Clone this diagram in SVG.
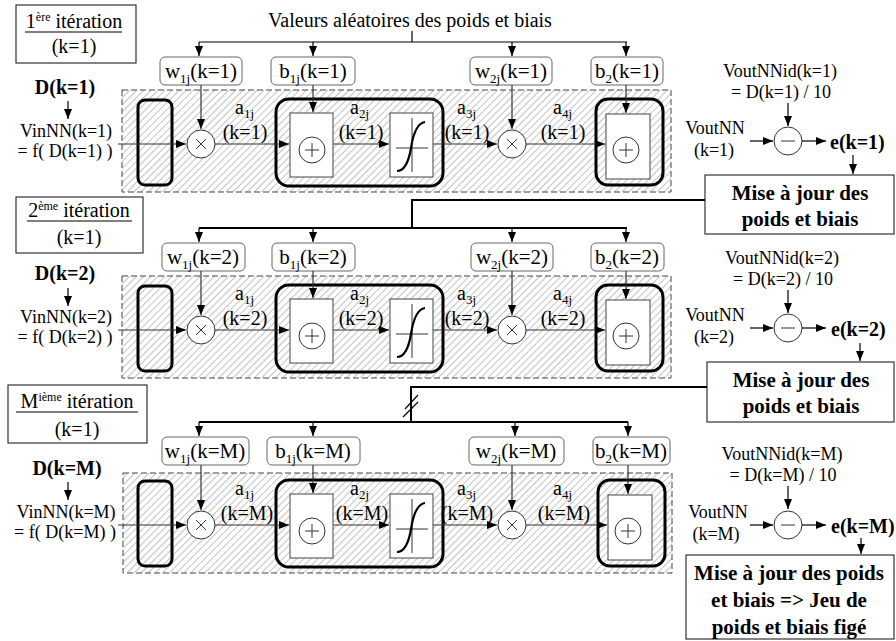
<svg xmlns="http://www.w3.org/2000/svg" width="896" height="641" viewBox="0 0 896 641">
<defs>
<pattern id="hatch" patternUnits="userSpaceOnUse" width="5" height="5" patternTransform="rotate(45)"><rect width="5" height="5" fill="#fff"/><line x1="0.5" y1="0" x2="0.5" y2="5" stroke="#c2c2c2" stroke-width="1"/></pattern>
<marker id="ah" markerUnits="userSpaceOnUse" markerWidth="10" markerHeight="8" refX="10" refY="4" orient="auto"><path d="M0,0 L10,4 L0,8 z" fill="#000"/></marker>
</defs>
<style>
.t{font-family:"Liberation Serif","Times New Roman",serif;font-size:20px;fill:#000}
.m{text-anchor:middle}
.b{font-weight:bold}
.s17{font-size:18px}
.s21{font-size:21px}
.sub{font-size:13px}
.dash{fill:url(#hatch);stroke:#444;stroke-width:1;stroke-dasharray:6 3}
.thick{fill:none;stroke:#000;stroke-width:3}
.lbl{fill:#fff;stroke:#666;stroke-width:1}
.inner{fill:#fff;stroke:#444;stroke-width:1}
.circ{fill:#fff;stroke:#333;stroke-width:1}
.sym{stroke:#333;stroke-width:1;fill:none}
.sig{stroke:#000;stroke-width:2.2;fill:none}
.box{fill:#fff;stroke:#333;stroke-width:1.2}
.w{stroke:#333;stroke-width:1.2;fill:none}
.a{marker-end:url(#ah)}
.bus{stroke:#000;stroke-width:1.2;fill:none}
.bus2{stroke:#000;stroke-width:2;fill:none}
</style>

<!-- Row 1 -->
<g id="title" ><text class="t m" x="410" y="27" font-size="21">Valeurs aléatoires des poids et biais</text></g>
<g id="iter1"><rect class="box" x="16" y="5" width="120" height="58"/><text class="t m" x="74" y="28">1<tspan font-size="12" dy="-7">ère</tspan><tspan dy="7"> itération</tspan></text><line x1="25" y1="32" x2="122" y2="32" stroke="#000" stroke-width="1"/><text class="t m" x="74" y="53">(k=1)</text></g>
<g id="in1"><text class="t b m" x="65" y="94" font-size="19">D(k=1)</text><text class="t m s17" x="66" y="137">VinNN(k=1)</text><text class="t m s17" x="65" y="157">= f( D(k=1) )</text></g>

<g id="net1">
<g id="net1-frame"><rect class="dash" x="122" y="90" width="549" height="102"/></g>
<g id="net1-in"><rect class="thick" x="138" y="100" width="34" height="85" rx="7"/></g>
<g id="net1-mul1"><circle class="circ" cx="201" cy="144" r="14"/><path class="sym" d="M196,139 L206,149 M206,139 L196,149"/></g>
<g id="net1-layer1"><rect class="thick" x="276" y="99" width="167" height="87" rx="13"/></g>
<g id="net1-sum1"><rect class="inner" x="290" y="113" width="43" height="64"/><circle class="circ" cx="312" cy="150" r="13"/><path class="sym" d="M305,150 H319 M312,143 V157"/></g>
<g id="net1-sig"><rect class="inner" x="390" y="113" width="43" height="64"/><path class="sym" d="M412,118 V172 M396,148 H428"/><path class="sig" d="M397,171 C405,171 409,160 411,148 C413,135 417,123 425,122"/></g>
<g id="net1-mul2"><circle class="circ" cx="512" cy="144" r="14"/><path class="sym" d="M507,139 L517,149 M517,139 L507,149"/></g>
<g id="net1-out"><rect class="thick" x="596" y="99" width="67" height="86" rx="12"/><rect class="inner" x="606" y="114" width="44" height="65"/><circle class="circ" cx="626" cy="150" r="13"/><path class="sym" d="M619,150 H633 M626,143 V157"/></g>
<g id="net1-w1"><rect class="lbl" x="160" y="57" width="82" height="28" rx="5"/><text class="t m s21" x="201" y="78">w<tspan class="sub" dy="5">1j</tspan><tspan dy="-5">(k=1)</tspan></text></g>
<g id="net1-b1"><rect class="lbl" x="271" y="57" width="84" height="28" rx="5"/><text class="t m s21" x="313" y="78">b<tspan class="sub" dy="5">1j</tspan><tspan dy="-5">(k=1)</tspan></text></g>
<g id="net1-w2"><rect class="lbl" x="470" y="57" width="82" height="28" rx="5"/><text class="t m s21" x="511" y="78">w<tspan class="sub" dy="5">2j</tspan><tspan dy="-5">(k=1)</tspan></text></g>
<g id="net1-b2"><rect class="lbl" x="591" y="57" width="72" height="28" rx="5"/><text class="t m s21" x="627" y="78">b<tspan class="sub" dy="5">2</tspan><tspan dy="-5">(k=1)</tspan></text></g>
<g id="net1-labels">
<text class="t" x="235" y="114">a<tspan class="sub" dy="4">1j</tspan></text><text class="t m" x="245" y="139">(k=1)</text>
<text class="t" x="350" y="114">a<tspan class="sub" dy="4">2j</tspan></text><text class="t m" x="361" y="139">(k=1)</text>
<text class="t" x="457" y="114">a<tspan class="sub" dy="4">3j</tspan></text><text class="t m" x="467" y="139">(k=1)</text>
<text class="t" x="553" y="114">a<tspan class="sub" dy="4">4j</tspan></text><text class="t m" x="563" y="139">(k=1)</text>
</g>
</g>

<g id="err1">
<text class="t m s17" x="780" y="77">VoutNNid(k=1)</text><text class="t m s17" x="781" y="98">= D(k=1) / 10</text>
<text class="t m s17" x="715" y="134">VoutNN</text><text class="t m s17" x="714" y="156">(k=1)</text>
<circle class="circ" cx="788" cy="141" r="14"/><path class="sym" d="M781,141 H795"/>
<text class="t b" x="830" y="149" font-size="23">e(k=1)</text>
</g>
<g id="upd1"><rect class="box" x="705" y="175" width="189" height="59"/><text class="t b m s21" x="800" y="200">Mise à jour des</text><text class="t b m s21" x="800" y="226">poids et biais</text></g>

<!-- Row 2 -->
<g id="iter2"><rect class="box" x="16" y="197" width="127" height="56"/><text class="t m" x="79" y="217">2<tspan font-size="12" dy="-7">ème</tspan><tspan dy="7"> itération</tspan></text><line x1="27" y1="221" x2="132" y2="221" stroke="#000" stroke-width="1"/><text class="t m" x="79" y="244">(k=1)</text></g>
<g id="in2"><text class="t b m" x="65" y="280" font-size="19">D(k=2)</text><text class="t m s17" x="66" y="323">VinNN(k=2)</text><text class="t m s17" x="65" y="343">= f( D(k=2) )</text></g>

<g id="net2" transform="translate(0,186)">
<g id="net2-frame"><rect class="dash" x="122" y="90" width="549" height="102"/></g>
<g id="net2-in"><rect class="thick" x="138" y="100" width="34" height="85" rx="7"/></g>
<g id="net2-mul1"><circle class="circ" cx="201" cy="144" r="14"/><path class="sym" d="M196,139 L206,149 M206,139 L196,149"/></g>
<g id="net2-layer1"><rect class="thick" x="276" y="99" width="167" height="87" rx="13"/></g>
<g id="net2-sum1"><rect class="inner" x="290" y="113" width="43" height="64"/><circle class="circ" cx="312" cy="150" r="13"/><path class="sym" d="M305,150 H319 M312,143 V157"/></g>
<g id="net2-sig"><rect class="inner" x="390" y="113" width="43" height="64"/><path class="sym" d="M412,118 V172 M396,148 H428"/><path class="sig" d="M397,171 C405,171 409,160 411,148 C413,135 417,123 425,122"/></g>
<g id="net2-mul2"><circle class="circ" cx="512" cy="144" r="14"/><path class="sym" d="M507,139 L517,149 M517,139 L507,149"/></g>
<g id="net2-out"><rect class="thick" x="596" y="99" width="67" height="86" rx="12"/><rect class="inner" x="606" y="114" width="44" height="65"/><circle class="circ" cx="626" cy="150" r="13"/><path class="sym" d="M619,150 H633 M626,143 V157"/></g>
<g id="net2-w1"><rect class="lbl" x="162" y="57" width="83" height="28" rx="5"/><text class="t m s21" x="203" y="78">w<tspan class="sub" dy="5">1j</tspan><tspan dy="-5">(k=2)</tspan></text></g>
<g id="net2-b1"><rect class="lbl" x="272" y="57" width="83" height="28" rx="5"/><text class="t m s21" x="313" y="78">b<tspan class="sub" dy="5">1j</tspan><tspan dy="-5">(k=2)</tspan></text></g>
<g id="net2-w2"><rect class="lbl" x="471" y="57" width="82" height="28" rx="5"/><text class="t m s21" x="512" y="78">w<tspan class="sub" dy="5">2j</tspan><tspan dy="-5">(k=2)</tspan></text></g>
<g id="net2-b2"><rect class="lbl" x="591" y="57" width="73" height="28" rx="5"/><text class="t m s21" x="627" y="78">b<tspan class="sub" dy="5">2</tspan><tspan dy="-5">(k=2)</tspan></text></g>
<g id="net2-labels">
<text class="t" x="235" y="114">a<tspan class="sub" dy="4">1j</tspan></text><text class="t m" x="245" y="139">(k=2)</text>
<text class="t" x="350" y="114">a<tspan class="sub" dy="4">2j</tspan></text><text class="t m" x="361" y="139">(k=2)</text>
<text class="t" x="457" y="114">a<tspan class="sub" dy="4">3j</tspan></text><text class="t m" x="467" y="139">(k=2)</text>
<text class="t" x="553" y="114">a<tspan class="sub" dy="4">4j</tspan></text><text class="t m" x="563" y="139">(k=2)</text>
</g>
</g>

<g id="err2" transform="translate(0,187)">
<text class="t m s17" x="782" y="77">VoutNNid(k=2)</text><text class="t m s17" x="783" y="98">= D(k=2) / 10</text>
<text class="t m s17" x="715" y="134">VoutNN</text><text class="t m s17" x="714" y="156">(k=2)</text>
<circle class="circ" cx="788" cy="141" r="14"/><path class="sym" d="M781,141 H795"/>
<text class="t b" x="831" y="149" font-size="23">e(k=2)</text>
</g>
<g id="upd2"><rect class="box" x="707" y="362" width="187" height="60"/><text class="t b m s21" x="801" y="387">Mise à jour des</text><text class="t b m s21" x="801" y="413">poids et biais</text></g>

<!-- Row 3 -->
<g id="iter3"><rect class="box" x="8" y="385" width="139" height="58"/><text class="t m" x="77" y="408">M<tspan font-size="12" dy="-7">ième</tspan><tspan dy="7"> itération</tspan></text><line x1="16" y1="412" x2="138" y2="412" stroke="#000" stroke-width="1"/><text class="t m" x="77" y="436">(k=1)</text></g>
<g id="in3"><text class="t b m" x="67" y="475" font-size="19">D(k=M)</text><text class="t m s17" x="66" y="518">VinNN(k=M)</text><text class="t m s17" x="65" y="538">= f( D(k=M) )</text></g>

<g id="net3" transform="translate(0,381)">
<g id="net3-frame"><rect class="dash" x="123" y="92" width="549" height="100"/></g>
<g id="net3-in"><rect class="thick" x="138" y="100" width="34" height="85" rx="7"/></g>
<g id="net3-mul1"><circle class="circ" cx="201" cy="144" r="14"/><path class="sym" d="M196,139 L206,149 M206,139 L196,149"/></g>
<g id="net3-layer1"><rect class="thick" x="276" y="99" width="167" height="87" rx="13"/></g>
<g id="net3-sum1"><rect class="inner" x="290" y="113" width="43" height="64"/><circle class="circ" cx="312" cy="150" r="13"/><path class="sym" d="M305,150 H319 M312,143 V157"/></g>
<g id="net3-sig"><rect class="inner" x="390" y="113" width="43" height="64"/><path class="sym" d="M412,118 V172 M396,148 H428"/><path class="sig" d="M397,171 C405,171 409,160 411,148 C413,135 417,123 425,122"/></g>
<g id="net3-mul2"><circle class="circ" cx="512" cy="144" r="14"/><path class="sym" d="M507,139 L517,149 M517,139 L507,149"/></g>
<g id="net3-out"><rect class="thick" x="598" y="99" width="67" height="86" rx="12"/><rect class="inner" x="608" y="114" width="44" height="65"/><circle class="circ" cx="628" cy="150" r="13"/><path class="sym" d="M621,150 H635 M628,143 V157"/></g>
<g id="net3-w1"><rect class="lbl" x="162" y="56" width="87" height="28" rx="5"/><text class="t m s21" x="205" y="77">w<tspan class="sub" dy="5">1j</tspan><tspan dy="-5">(k=M)</tspan></text></g>
<g id="net3-b1"><rect class="lbl" x="267" y="56" width="93" height="28" rx="5"/><text class="t m s21" x="313" y="77">b<tspan class="sub" dy="5">1j</tspan><tspan dy="-5">(k=M)</tspan></text></g>
<g id="net3-w2"><rect class="lbl" x="469" y="56" width="95" height="28" rx="5"/><text class="t m s21" x="516" y="77">w<tspan class="sub" dy="5">2j</tspan><tspan dy="-5">(k=M)</tspan></text></g>
<g id="net3-b2"><rect class="lbl" x="593" y="56" width="77" height="28" rx="5"/><text class="t m s21" x="631" y="77">b<tspan class="sub" dy="5">2</tspan><tspan dy="-5">(k=M)</tspan></text></g>
<g id="net3-labels">
<text class="t" x="235" y="114">a<tspan class="sub" dy="4">1j</tspan></text><text class="t m" x="247" y="139">(k=M)</text>
<text class="t" x="350" y="114">a<tspan class="sub" dy="4">2j</tspan></text><text class="t m" x="362" y="139">(k=M)</text>
<text class="t" x="457" y="114">a<tspan class="sub" dy="4">3j</tspan></text><text class="t m" x="467" y="139">(k=M)</text>
<text class="t" x="553" y="114">a<tspan class="sub" dy="4">4j</tspan></text><text class="t m" x="564" y="139">(k=M)</text>
</g>
</g>

<g id="err3" transform="translate(0,384)">
<text class="t m s17" x="782" y="76">VoutNNid(k=M)</text><text class="t m s17" x="783" y="97">= D(k=M) / 10</text>
<text class="t m s17" x="718" y="134">VoutNN</text><text class="t m s17" x="716" y="156">(k=M)</text>
<circle class="circ" cx="788" cy="141" r="14"/><path class="sym" d="M781,141 H795"/>
<text class="t b" x="831" y="149" font-size="23">e(k=M)</text>
</g>
<g id="upd3"><rect class="box" x="686" y="555" width="208" height="84"/><text class="t b m s21" x="789" y="580">Mise à jour des poids</text><text class="t b m s21" x="789" y="607">et biais =&gt; Jeu de</text><text class="t b m s21" x="789" y="634">poids et biais figé</text></g>

<!-- Connectors -->
<g id="connectors">
<g id="conn-row1">
<path class="bus" d="M412,31 V42 M199,42 H627"/>
<path class="bus a" d="M199,42 V56"/><path class="bus a" d="M313,42 V56"/><path class="bus a" d="M512,42 V56"/><path class="bus a" d="M626,42 V56"/>
<path class="w a" d="M118,144 H186"/><path class="w a" d="M215,144 H289"/><path class="w a" d="M333,144 H389"/><path class="w a" d="M433,144 H497"/><path class="w a" d="M526,144 H605"/>
<path class="w a" d="M201,85 V129"/><path class="w a" d="M313,85 V112"/><path class="w a" d="M512,85 V129"/><path class="w a" d="M626,85 V113"/>
<path class="bus a" d="M68,101 V119"/>
<path class="bus a" d="M788,103 V126"/><path class="bus a" d="M750,141 H773"/><path class="bus a" d="M802,141 H826"/><path class="bus a" d="M853,155 V174"/>
</g>
<g id="conn-row2">
<path class="bus2" d="M705,200 H412 V228 M199,228 H627"/>
<path class="bus a" d="M199,228 V242"/><path class="bus a" d="M313,228 V242"/><path class="bus a" d="M512,228 V242"/><path class="bus a" d="M626,228 V242"/>
<path class="w a" d="M118,330 H186"/><path class="w a" d="M215,330 H289"/><path class="w a" d="M333,330 H389"/><path class="w a" d="M433,330 H497"/><path class="w a" d="M526,330 H605"/>
<path class="w a" d="M201,271 V315"/><path class="w a" d="M313,271 V298"/><path class="w a" d="M512,271 V315"/><path class="w a" d="M626,271 V299"/>
<path class="bus a" d="M68,288 V306"/>
<path class="bus a" d="M788,290 V313"/><path class="bus a" d="M750,328 H773"/><path class="bus a" d="M802,328 H826"/><path class="bus a" d="M860,343 V361"/>
</g>
<g id="conn-row3">
<path class="bus2" d="M707,387 H411 V422 M199,422 H628"/>
<path class="bus" d="M405,409 L418,395 M403,417 L418,402"/>
<path class="bus a" d="M199,422 V436"/><path class="bus a" d="M313,422 V436"/><path class="bus a" d="M515,422 V436"/><path class="bus a" d="M628,422 V436"/>
<path class="w a" d="M118,525 H186"/><path class="w a" d="M215,525 H289"/><path class="w a" d="M333,525 H389"/><path class="w a" d="M433,525 H497"/><path class="w a" d="M526,525 H607"/>
<path class="w a" d="M201,465 V510"/><path class="w a" d="M313,465 V493"/><path class="w a" d="M512,465 V510"/><path class="w a" d="M628,465 V494"/>
<path class="bus a" d="M68,482 V500"/>
<path class="bus a" d="M788,486 V509"/><path class="bus a" d="M750,525 H773"/><path class="bus a" d="M802,525 H826"/><path class="bus a" d="M861,538 V554"/>
</g>
</g>
</svg>
